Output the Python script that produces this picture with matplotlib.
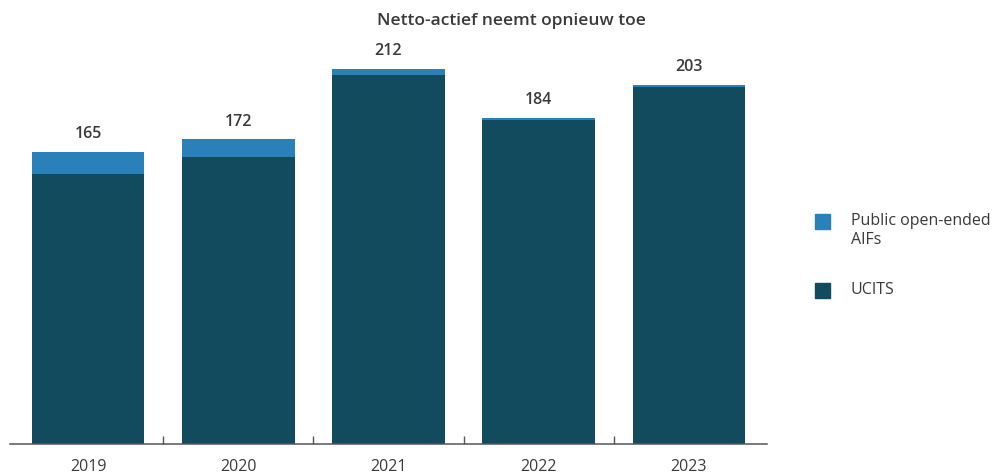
import matplotlib
matplotlib.use("Agg")
import matplotlib.pyplot as plt
from matplotlib.patches import Rectangle

# Net assets (EUR bn) by fund type
years = ["2019", "2020", "2021", "2022", "2023"]
totals = [165, 172, 212, 184, 203]
aifs = [12.5, 10.0, 3.5, 1.2, 1.2]
ucits = [t - a for t, a in zip(totals, aifs)]

title = "Netto-actief neemt opnieuw toe"
legend_labels = ["Public open-ended\nAIFs", "UCITS"]

c_ucits = "#124a5e"
c_aif = "#2a80b9"
c_text = "#3a3a3a"

plt.rcParams["font.family"] = ["Open Sans", "DejaVu Sans"]

W, H = 1004, 475
fig = plt.figure(figsize=(W / 100, H / 100), dpi=100)
ax = fig.add_axes([10 / W, 31 / H, 757 / W, 425 / H])

x = range(len(years))
ax.bar(x, ucits, width=0.75, color=c_ucits, zorder=2)
ax.bar(x, aifs, bottom=ucits, width=0.75, color=c_aif, zorder=2)

for xi, t in zip(x, totals):
    ax.annotate(str(t), (xi, t), xytext=(0, 7), textcoords="offset points",
                ha="center", va="bottom", fontsize=11.5, fontweight="semibold",
                color=c_text)

ax.set_xlim(-0.52, len(years) - 0.48)
ax.set_ylim(0, 240)
ax.set_xticks(list(x))
ax.set_xticklabels(years, fontsize=11.5, color=c_text)
ax.tick_params(axis="x", which="major", length=0, pad=11)
ax.set_xticks([i + 0.5 for i in range(len(years) - 1)], minor=True)
ax.tick_params(axis="x", which="minor", direction="in", length=6,
               color="#555555", width=1)
ax.set_yticks([])
for side in ["left", "right", "top"]:
    ax.spines[side].set_visible(False)
ax.spines["bottom"].set_color("#555555")
ax.spines["bottom"].set_linewidth(1.1)

fig.text(511 / W, 1 - 21 / H, title, ha="center", va="center",
         fontsize=12.5, fontweight="semibold", color=c_text)

# Legend keys
for (ytop, col, lab) in [(214, c_aif, legend_labels[0]), (283, c_ucits, legend_labels[1])]:
    fig.add_artist(Rectangle((815 / W, 1 - (ytop + 15) / H), 15 / W, 15 / H,
                             transform=fig.transFigure, color=col))
    fig.text(851 / W, 1 - (ytop - 1) / H, lab, ha="left", va="top",
             fontsize=11.5, color=c_text, linespacing=1.25)

fig.savefig("out.png", dpi=100)
